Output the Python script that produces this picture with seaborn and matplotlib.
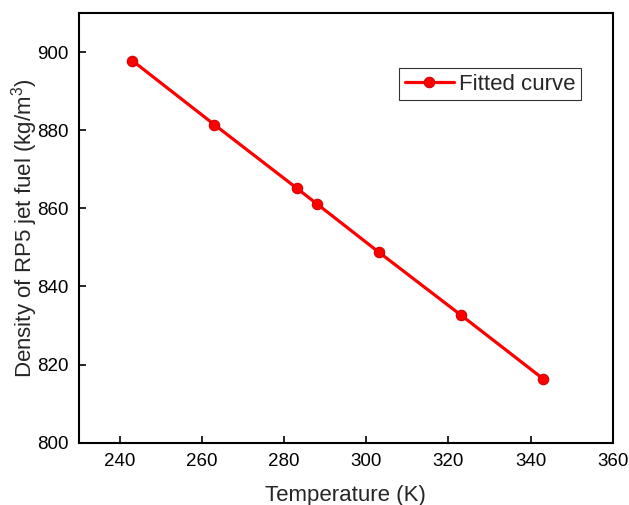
import matplotlib
matplotlib.use("Agg")
import matplotlib.pyplot as plt
import seaborn as sns
import pandas as pd

temperature = [243, 263, 283, 288, 303, 323, 343]
density = [897.8, 881.4, 865.2, 861.1, 848.8, 832.7, 816.4]
x_ticks = [240, 260, 280, 300, 320, 340, 360]
y_ticks = [800, 820, 840, 860, 880, 900]

sns.set_theme(style="ticks")
plt.rcParams['font.family'] = ['Liberation Sans', 'DejaVu Sans']
plt.rcParams['mathtext.fontset'] = 'custom'
plt.rcParams['mathtext.rm'] = 'Liberation Sans'

df = pd.DataFrame({"Temperature": temperature, "Density": density, "label": "Fitted curve"})

fig = plt.figure(figsize=(6.29, 5.05), dpi=100)
ax = fig.add_axes([0.1256, 0.1234, 0.8484, 0.8508])
sns.lineplot(data=df, x="Temperature", y="Density", hue="label", palette=["#ff0000"],
             marker="o", markersize=7.5, markeredgecolor="#d00000", markeredgewidth=0.8,
             linewidth=2.3, ax=ax)

ax.set_xlim(230, 360)
ax.set_ylim(800, 910)
ax.set_xticks(x_ticks)
ax.set_yticks(y_ticks)
ax.tick_params(direction="in", length=5, width=1.2, labelsize=13.5, colors="black", pad=7.5)
for s in ax.spines.values():
    s.set_linewidth(1.5)
    s.set_color("black")
ax.set_xlabel("Temperature (K)", fontsize=16, labelpad=10.5)
ax.set_ylabel("Density of RP5 jet fuel (kg/m$^3$)", fontsize=16)
ax.yaxis.set_label_coords(-0.073, 0.5)

leg = ax.legend(loc="upper left", bbox_to_anchor=(0.6, 0.872), fontsize=16,
                frameon=True, fancybox=False, edgecolor="black", handlelength=2.2,
                borderpad=0.25, handletextpad=0.25, borderaxespad=0)
leg.get_frame().set_linewidth(0.8)

fig.savefig("out.png", dpi=100)
